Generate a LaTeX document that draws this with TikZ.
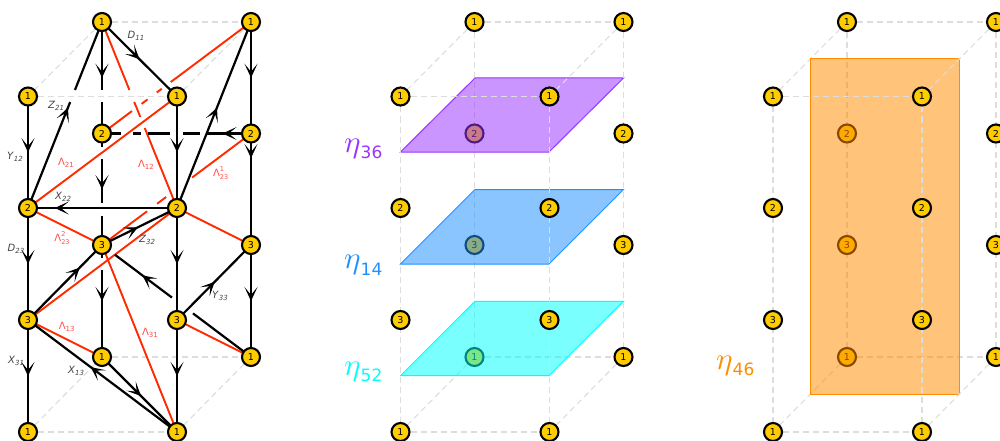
\documentclass[tikz,border=0pt]{standalone}
\usepackage{graphicx}
\usepackage{fontspec}
\setmainfont{DejaVu Sans}
\usetikzlibrary{arrows.meta,decorations.markings}
\pgfdeclarelayer{grayback}\pgfdeclarelayer{backnodes}\pgfdeclarelayer{planes}\pgfdeclarelayer{frontl}
\pgfsetlayers{grayback,backnodes,planes,frontl,main}
\definecolor{nodefill}{HTML}{FFCC00}
\definecolor{edgered}{HTML}{FF2A00}
\definecolor{lblred}{HTML}{FF4A4A}
\definecolor{lblgray}{HTML}{444444}
\definecolor{gridgray}{HTML}{DDDDDD}
\definecolor{etapurple}{HTML}{9933FF}
\definecolor{etablue}{HTML}{1E90FF}
\definecolor{etacyan}{HTML}{00FFFF}
\definecolor{etaorange}{HTML}{FF8C00}
\tikzset{
  vertex/.style={circle,draw=black,fill=nodefill,line width=2.1pt,minimum size=18pt,inner sep=0pt,outer sep=0pt,font=\fontsize{9.5}{10}\selectfont},
  gridline/.style={draw=gridgray,line width=1.1pt,dash pattern=on 6pt off 4pt},
  blk/.style={draw=black,line width=2.2pt},
  redl/.style={draw=edgered,line width=1.9pt},
  arrowat/.style={postaction={decorate},decoration={markings,mark=at position #1 with {\arrow[black]{Stealth[length=14pt,width=13pt,inset=8pt,line width=1.1pt]}}}},
  qlabel/.style={text=lblgray,inner sep=0pt,font=\fontsize{10}{11}\selectfont},
  llabel/.style={text=lblred,inner sep=0pt,font=\fontsize{10}{11}\selectfont},
  etalabel/.style={inner sep=0pt,anchor=base west},
  plane/.style={line width=1pt,fill opacity=0.52}
}
\newcommand{\lsub}[2]{\textit{#1}\raisebox{-2pt}{\fontsize{7}{8}\selectfont\textit{#2}}}
\newcommand{\lam}[1]{Λ\raisebox{-2pt}{\fontsize{7}{8}\selectfont #1}}
\newcommand{\lamt}[2]{Λ{\fontsize{6.5}{7}\selectfont\rlap{\raisebox{5pt}{#2}}\raisebox{-2.5pt}{#1}}}
\newcommand{\etatxt}[1]{\scalebox{3.1}{$\eta$}\raisebox{-6.4pt}{\fontsize{17}{17}\selectfont #1}}
% back column nodes (C,E) and front column nodes (A,B)
\newcommand{\cubenodes}[3]{%
  \begin{pgfonlayer}{#3}
  \node[vertex] (#1C1) at (#2+102,22) {1};
  \node[vertex] (#1C2) at (#2+102,133.5) {2};
  \node[vertex] (#1C3) at (#2+102,245) {3};
  \node[vertex] (#1C4) at (#2+102,357) {1};
  \end{pgfonlayer}
  \node[vertex] (#1E1) at (#2+251,22) {1};
  \node[vertex] (#1E2) at (#2+251,133.5) {2};
  \node[vertex] (#1E3) at (#2+251,245) {3};
  \node[vertex] (#1E4) at (#2+251,357) {1};
  \node[vertex] (#1A1) at (#2+28,96.5) {1};
  \node[vertex] (#1A2) at (#2+28,208) {2};
  \node[vertex] (#1A3) at (#2+28,320) {3};
  \node[vertex] (#1A4) at (#2+28,432) {1};
  \node[vertex] (#1B1) at (#2+177,96.5) {1};
  \node[vertex] (#1B2) at (#2+177,208) {2};
  \node[vertex] (#1B3) at (#2+177,320) {3};
  \node[vertex] (#1B4) at (#2+177,432) {1};
}
% grey cube frame; verticals and far edges for the panels with planes
\newcommand{\cubeframe}[1]{%
  \draw[gridline] (#1C1.center) -- (#1E1.center);
  \draw[gridline] (#1C1.center) -- (#1A1.center);
  \draw[gridline] (#1E1.center) -- (#1B1.center);
  \draw[gridline] (#1A1.center) -- (#1B1.center);
  \draw[gridline] (#1C4.center) -- (#1E4.center);
  \draw[gridline] (#1C4.center) -- (#1A4.center);
  \draw[gridline] (#1E4.center) -- (#1B4.center);
  \draw[gridline] (#1A4.center) -- (#1B4.center);
}
\newcommand{\cubeverts}[1]{%
  \draw[gridline] (#1A1.center) -- (#1A4.center);
  \draw[gridline] (#1B1.center) -- (#1B4.center);
  \draw[gridline] (#1E1.center) -- (#1E4.center);
}
\begin{document}
\begin{tikzpicture}[x=1pt,y=-1pt]
\useasboundingbox (0,0) rectangle (1000,441);
\cubenodes{P}{0}{main}
\cubenodes{Q}{372.5}{backnodes}
\cubenodes{R}{745}{backnodes}

% ---------- panel 1 ----------
\begin{pgfonlayer}{grayback}
\cubeframe{P}
\end{pgfonlayer}
\begin{pgfonlayer}{frontl}
% red edges
\draw[redl] (PA2.center) -- (PB1.center);
\draw[redl,dash pattern=on 37.4pt off 12pt on 7.5pt off 11.5pt on 6.2pt off 11.2pt on 200pt] (PC2.center) -- (PE1.center);
\draw[redl] (PA3.center) -- (PB2.center);
\draw[redl,dash pattern=on 56.3pt off 12.5pt on 11.3pt off 32.5pt on 200pt] (PC3.center) -- (PE2.center);
\draw[redl,dash pattern=on 73.3pt off 12.9pt on 16.2pt off 11.9pt on 200pt] (PC1.center) -- (PB2.center);
\draw[redl] (PC3.center) -- (PB4.center);
\draw[redl] (PA2.center) -- (PC3.center);
\draw[redl] (PB2.center) -- (PE3.center);
\draw[redl] (PA3.center) -- (PC4.center);
\draw[redl] (PB3.center) -- (PE4.center);
% black verticals
\draw[blk,arrowat=.5] (PA1.center) -- (PA2.center);
\draw[blk,arrowat=.5] (PA2.center) -- (PA3.center);
\draw[blk,arrowat=.5] (PA3.center) -- (PA4.center);
\draw[blk,arrowat=.5] (PB1.center) -- (PB2.center);
\draw[blk,arrowat=.5] (PB2.center) -- (PB3.center);
\draw[blk,arrowat=.5] (PB3.center) -- (PB4.center);
\draw[blk,arrowat=.5,dash pattern=on 68pt off 12pt on 100pt] (PC1.center) -- (PC2.center);
\draw[blk,arrowat=.5,dash pattern=on 13pt off 12pt on 44pt off 13pt on 100pt] (PC2.center) -- (PC3.center);
\draw[blk,arrowat=.5,dash pattern=on 13pt off 12pt on 100pt] (PC3.center) -- (PC4.center);
\draw[blk,arrowat=.5] (PE1.center) -- (PE2.center);
\draw[blk,arrowat=.22] (PE2.center) -- (PE3.center);
\draw[blk,arrowat=.5] (PE3.center) -- (PE4.center);
% black horizontals and diagonals
\draw[blk,arrowat=.19,dash pattern=on 44pt off 7pt on 17pt off 13pt on 22pt off 7.5pt on 7.5pt off 12.5pt on 50pt] (PE2.center) -- (PC2.center);
\draw[blk,arrowat=.82] (PB2.center) -- (PA2.center);
\draw[blk,arrowat=.5] (PC1.center) -- (PB1.center);
\draw[blk,arrowat=.54,dash pattern=on 114pt off 13pt on 100pt] (PA2.center) -- (PC1.center);
\draw[blk,arrowat=.54] (PB2.center) -- (PE1.center);
\draw[blk,arrowat=.48] (PC3.center) -- (PB2.center);
\draw[blk,arrowat=.7] (PA3.center) -- (PC3.center);
\draw[blk,arrowat=.51] (PB3.center) -- (PE3.center);
\draw[blk,arrowat=.73,dash pattern=on 72.6pt off 26.3pt on 71.3pt off 100pt] (PE4.center) -- (PC3.center);
\draw[blk,arrowat=.52] (PC4.center) -- (PB4.center);
\draw[blk,arrowat=.58] (PB4.center) -- (PA3.center);
\end{pgfonlayer}
% labels
\node[qlabel] (lD11) at (136,36) {\lsub{D}{11}};
\node[qlabel] (lZ21) at (56,105.7) {\lsub{Z}{21}};
\node[qlabel] (lY12) at (15,157) {\lsub{Y}{12}};
\node[qlabel] (lX22) at (63,197) {\lsub{X}{22}};
\node[qlabel] (lZ32) at (147,240) {\lsub{Z}{32}};
\node[qlabel] (lD23) at (16,249) {\lsub{D}{23}};
\node[qlabel] (lY33) at (220,296) {\lsub{Y}{33}};
\node[qlabel] (lX31) at (16,361) {\lsub{X}{31}};
\node[qlabel] (lX13) at (76,371) {\lsub{X}{13}};
\node[llabel] (lL21) at (66,163) {\lam{21}};
\node[llabel] (lL12) at (146,165) {\lam{12}};
\node[llabel] (lL13) at (66.7,327) {\lam{13}};
\node[llabel] (lL31) at (150,333) {\lam{31}};
\node[llabel] (lL231) at (220.7,173) {\lamt{23}{1}};
\node[llabel] (lL232) at (62,238) {\lamt{23}{2}};

% ---------- panel 2 ----------
\begin{pgfonlayer}{grayback}
\draw[gridline] (QC1.center) -- (QC4.center);
\draw[gridline] (QC1.center) -- (QE1.center);
\draw[gridline] (QC1.center) -- (QA1.center);
\draw[gridline] (QC4.center) -- (QA4.center);
\draw[gridline] (QC4.center) -- (QE4.center);
\end{pgfonlayer}
\begin{pgfonlayer}{planes}
\path[plane,draw=etapurple,fill=etapurple] (400.5,152) -- (549,152) -- (623.5,78) -- (475,78) -- cycle;
\path[plane,draw=etablue,fill=etablue] (400.5,264) -- (549,264) -- (623.5,189.5) -- (475,189.5) -- cycle;
\path[plane,draw=etacyan,fill=etacyan] (400.5,375.7) -- (549,375.7) -- (623.5,301.3) -- (475,301.3) -- cycle;
\end{pgfonlayer}
\begin{pgfonlayer}{frontl}
\draw[gridline] (QE1.center) -- (QB1.center);
\draw[gridline] (QA1.center) -- (QB1.center);
\draw[gridline] (QE4.center) -- (QB4.center);
\draw[gridline] (QA4.center) -- (QB4.center);
\cubeverts{Q}
\end{pgfonlayer}
\node[etalabel,text=etapurple] (eta36) at (344,152.3) {\etatxt{36}};
\node[etalabel,text=etablue] (eta14) at (344,268.6) {\etatxt{14}};
\node[etalabel,text=etacyan] (eta52) at (344,375.3) {\etatxt{52}};

% ---------- panel 3 ----------
\begin{pgfonlayer}{grayback}
\draw[gridline] (RC1.center) -- (RC4.center);
\draw[gridline] (RC1.center) -- (RE1.center);
\draw[gridline] (RC1.center) -- (RA1.center);
\draw[gridline] (RC4.center) -- (RA4.center);
\draw[gridline] (RC4.center) -- (RE4.center);
\end{pgfonlayer}
\begin{pgfonlayer}{planes}
\path[plane,draw=etaorange,fill=etaorange] (810,59) -- (959.3,59) -- (959.3,394) -- (810,394) -- cycle;
\end{pgfonlayer}
\begin{pgfonlayer}{frontl}
\draw[gridline] (RE1.center) -- (RB1.center);
\draw[gridline] (RA1.center) -- (RB1.center);
\draw[gridline] (RE4.center) -- (RB4.center);
\draw[gridline] (RA4.center) -- (RB4.center);
\cubeverts{R}
\end{pgfonlayer}
\node[etalabel,text=etaorange] (eta46) at (716,369.3) {\etatxt{46}};
\end{tikzpicture}
\end{document}
